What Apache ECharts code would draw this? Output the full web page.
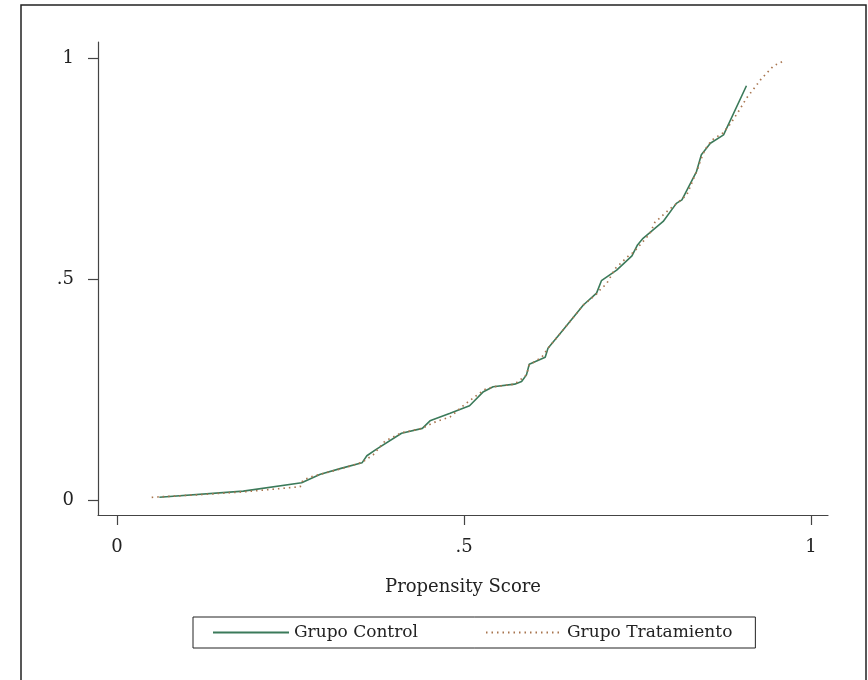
<!DOCTYPE html>
<html>
<head>
<meta charset="utf-8">
<script src="https://cdn.jsdelivr.net/npm/echarts@6/dist/echarts.min.js"></script>
<style>
html,body{margin:0;padding:0;background:#fff;}
#chart{width:868px;height:680px;}
</style>
</head>
<body>
<div id="chart"></div>
<script>
const seriesNames = ['Grupo Control', 'Grupo Tratamiento'];
const xTickValues = [0, 0.5, 1];
const xTickLabels = ['0', '.5', '1'];
const yTickValues = [0, 0.5, 1];
const yTickLabels = ['0', '.5', '1'];
const xAxisTitle = 'Propensity Score';

const controlData = [
  [0.061,0.006],[0.182,0.020],[0.266,0.039],[0.293,0.058],[0.324,0.072],[0.353,0.084],
  [0.360,0.100],[0.374,0.115],[0.410,0.151],[0.440,0.162],[0.451,0.179],[0.480,0.196],
  [0.508,0.213],[0.528,0.245],[0.542,0.256],[0.573,0.262],[0.583,0.268],[0.590,0.283],
  [0.594,0.307],[0.617,0.323],[0.621,0.343],[0.643,0.385],[0.672,0.441],[0.691,0.468],
  [0.698,0.496],[0.720,0.520],[0.742,0.552],[0.750,0.577],[0.758,0.592],[0.787,0.630],
  [0.806,0.671],[0.814,0.679],[0.835,0.743],[0.842,0.781],[0.855,0.807],[0.874,0.826],
  [0.907,0.937]
];
const treatmentData = [
  [0.050,0.006],[0.120,0.012],[0.187,0.019],[0.264,0.030],[0.268,0.045],[0.283,0.054],
  [0.324,0.071],[0.353,0.085],[0.369,0.102],[0.386,0.133],[0.410,0.152],[0.440,0.162],
  [0.456,0.175],[0.480,0.188],[0.501,0.216],[0.516,0.234],[0.530,0.250],[0.542,0.256],
  [0.573,0.262],[0.590,0.283],[0.594,0.305],[0.612,0.323],[0.621,0.343],[0.643,0.385],
  [0.672,0.441],[0.691,0.466],[0.698,0.479],[0.705,0.488],[0.709,0.499],[0.718,0.524],
  [0.737,0.552],[0.744,0.560],[0.756,0.581],[0.768,0.603],[0.775,0.628],[0.787,0.645],
  [0.795,0.656],[0.821,0.690],[0.838,0.754],[0.840,0.765],[0.847,0.792],[0.857,0.814],
  [0.873,0.830],[0.884,0.851],[0.898,0.885],[0.907,0.909],[0.917,0.929],[0.928,0.952],
  [0.946,0.982],[0.963,0.995]
];

const FONT = 'DejaVu Serif';
const chart = echarts.init(document.getElementById('chart'));
const axisCommon = {
  type: 'value',
  axisLine: { show: true, onZero: false, lineStyle: { color: '#444', width: 1.2 } },
  splitLine: { show: false },
};
chart.setOption({
  animation: false,
  backgroundColor: '#fff',
  graphic: [{
    type: 'rect', silent: true,
    shape: { x: 21, y: 5, width: 845, height: 700 },
    style: { fill: 'none', stroke: '#222', lineWidth: 1.5 }
  }],
  grid: { left: 98, top: 42, width: 730, height: 473, containLabel: false },
  xAxis: Object.assign({}, axisCommon, {
    min: -0.0274, max: 1.0245,
    axisTick: { show: true, customValues: xTickValues, length: 10, inside: false, lineStyle: { color: '#444', width: 1.2 } },
    axisLabel: {
      customValues: xTickValues, margin: 23,
      formatter: v => xTickLabels[xTickValues.indexOf(v)],
      fontFamily: FONT, fontSize: 18, color: '#222'
    },
    name: xAxisTitle, nameLocation: 'middle', nameGap: 63,
    nameTextStyle: { fontFamily: FONT, fontSize: 18, color: '#222' }
  }),
  yAxis: Object.assign({}, axisCommon, {
    min: -0.034, max: 1.036,
    axisTick: { show: true, customValues: yTickValues, length: 10, inside: false, lineStyle: { color: '#444', width: 1.2 } },
    axisLabel: {
      customValues: yTickValues, margin: 24,
      formatter: v => yTickLabels[yTickValues.indexOf(v)],
      fontFamily: FONT, fontSize: 18, color: '#222'
    }
  }),
  legend: {
    left: 193, top: 617,
    orient: 'horizontal',
    data: seriesNames,
    borderColor: '#222', borderWidth: 1, borderRadius: 0,
    padding: [7, 23, 7, 19],
    itemWidth: 76, itemHeight: 14, itemGap: 67,
    itemStyle: { opacity: 0 },
    textStyle: { fontFamily: FONT, fontSize: 17, color: '#222' }
  },
  series: [
    {
      name: seriesNames[0], type: 'line', data: controlData,
      symbol: 'none', color: '#3b7a5a',
      lineStyle: { color: '#3b7a5a', width: 1.6 }
    },
    {
      name: seriesNames[1], type: 'line', data: treatmentData,
      symbol: 'none', color: '#a8754f',
      lineStyle: { color: '#a8754f', width: 1.7, type: [1.5, 4] }
    }
  ]
});
</script>
</body>
</html>
